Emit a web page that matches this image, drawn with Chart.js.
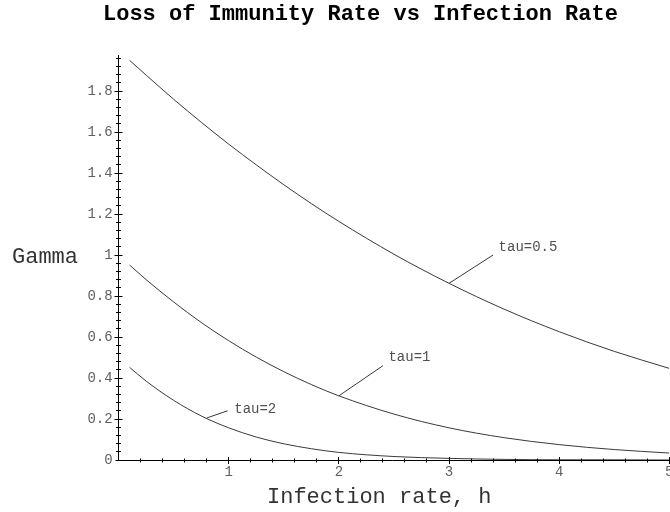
<!DOCTYPE html>
<html><head><meta charset="utf-8">
<script src="https://cdn.jsdelivr.net/npm/chart.js@4/dist/chart.umd.min.js"></script>
<style>html,body{margin:0;padding:0;background:#fff}#wrap{width:670px;height:512px;position:relative}</style>
</head><body><div id="wrap"><canvas id="c" width="670" height="512"></canvas></div>
<script>
// ---- data ----
const infectionRate = [0.1, 0.25, 0.5, 0.75, 1, 1.25, 1.5, 1.75, 2, 2.5, 3, 3.5, 4, 4.5, 5];
const gammaTau05 = [1.950, 1.878, 1.760, 1.648, 1.541, 1.440, 1.343, 1.251, 1.164, 1.004, 0.862, 0.736, 0.626, 0.530, 0.447];
const gammaTau1  = [0.951, 0.880, 0.771, 0.671, 0.582, 0.502, 0.431, 0.368, 0.313, 0.224, 0.157, 0.109, 0.075, 0.051, 0.034];
const gammaTau2  = [0.452, 0.385, 0.291, 0.215, 0.157, 0.112, 0.079, 0.055, 0.037, 0.017, 0.008, 0.003, 0.001, 0.001, 0.000];
const seriesNames = ['tau=0.5', 'tau=1', 'tau=2'];
const xTickValues = [1, 2, 3, 4, 5];
const yTickValues = [0, 0.2, 0.4, 0.6, 0.8, 1, 1.2, 1.4, 1.6, 1.8];
const chartTitle = 'Loss of Immunity Rate vs Infection Rate';
const xTitle = 'Infection rate, h';
const yTitle = 'Gamma';

// ---- label callouts (data units) ----
const callouts = [
  {text: seriesNames[0], ax: 3.0, ay: 0.862, ex: 3.40, ey: 1.00, tx: 3.45, ty: 1.04},
  {text: seriesNames[1], ax: 2.0, ay: 0.313, ex: 2.40, ey: 0.46, tx: 2.45, ty: 0.50},
  {text: seriesNames[2], ax: 0.80, ay: 0.205, ex: 0.99, ey: 0.24, tx: 1.05, ty: 0.245}
];

const MONO = '"Liberation Mono", "Courier New", monospace';
const toPts = arr => infectionRate.map((h, i) => ({x: h, y: arr[i]}));
const lineStyle = {borderColor: '#3a3a3a', borderWidth: 1, pointRadius: 0, fill: false, cubicInterpolationMode: 'monotone', showLine: true};

const maplePlugin = {
  id: 'maple',
  afterDraw(chart) {
    const {ctx, scales: {x, y}} = chart;
    const X = v => Math.floor(x.getPixelForValue(v)) + 0.5;
    const Y = v => Math.floor(y.getPixelForValue(v)) + 0.5;
    const x0 = X(0), y0 = Y(0);
    ctx.save();
    ctx.strokeStyle = '#000';
    ctx.lineWidth = 1;
    ctx.beginPath();
    // axes
    ctx.moveTo(x0 - 3, y0); ctx.lineTo(x.getPixelForValue(x.max), y0);
    ctx.moveTo(x0, y0); ctx.lineTo(x0, y.getPixelForValue(y.max));
    // y ticks every 0.04
    for (let i = 1; i <= 49; i++) {
      const py = Y(i * 0.04);
      const half = (i % 5 === 0) ? 4 : 2.5;
      ctx.moveTo(x0 - half, py); ctx.lineTo(x0 + half, py);
    }
    // x ticks every 0.2
    for (let i = 1; i <= 25; i++) {
      const px = X(i * 0.2);
      const half = (i % 5 === 0) ? 3.5 : 2;
      ctx.moveTo(px, y0 - half); ctx.lineTo(px, y0 + half);
    }
    ctx.stroke();

    // callouts
    ctx.strokeStyle = '#3a3a3a';
    ctx.beginPath();
    callouts.forEach(c => {
      ctx.moveTo(x.getPixelForValue(c.ax), y.getPixelForValue(c.ay));
      ctx.lineTo(x.getPixelForValue(c.ex), y.getPixelForValue(c.ey));
    });
    ctx.stroke();
    ctx.fillStyle = '#505050';
    ctx.font = '14px ' + MONO;
    ctx.textAlign = 'left';
    ctx.textBaseline = 'middle';
    callouts.forEach(c => ctx.fillText(c.text, x.getPixelForValue(c.tx), y.getPixelForValue(c.ty)));

    // titles
    ctx.textBaseline = 'alphabetic';
    ctx.fillStyle = '#000';
    ctx.font = 'bold 22px ' + MONO;
    ctx.fillText(chartTitle, 103, 19.5);
    ctx.fillStyle = '#333';
    ctx.font = '22px ' + MONO;
    ctx.fillText(xTitle, 267, 503);
    ctx.fillText(yTitle, 12, 263);
    ctx.restore();
  }
};

new Chart(document.getElementById('c'), {
  type: 'scatter',
  data: {
    datasets: [
      Object.assign({label: seriesNames[0], data: toPts(gammaTau05)}, lineStyle),
      Object.assign({label: seriesNames[1], data: toPts(gammaTau1)}, lineStyle),
      Object.assign({label: seriesNames[2], data: toPts(gammaTau2)}, lineStyle)
    ]
  },
  options: {
    responsive: false,
    animation: false,
    events: [],
    layout: {padding: {left: 0, right: 0.7, top: 55, bottom: 0}},
    plugins: {legend: {display: false}, tooltip: {enabled: false}, title: {display: false}},
    scales: {
      x: {
        type: 'linear', min: 0, max: 5,
        grid: {display: false, drawTicks: false}, border: {display: false},
        afterBuildTicks: s => { s.ticks = xTickValues.map(v => ({value: v})); },
        afterFit: s => { s.height = 52; s.paddingLeft = 0; s.paddingRight = 0; },
        ticks: {font: {family: MONO, size: 14}, color: '#606060', padding: 4, maxRotation: 0, autoSkip: false, callback: v => String(v)}
      },
      y: {
        type: 'linear', min: 0, max: 1.976,
        grid: {display: false, drawTicks: false}, border: {display: false},
        afterBuildTicks: s => { s.ticks = yTickValues.map(v => ({value: v})); },
        afterFit: s => { s.width = 118.6; s.paddingTop = 0; s.paddingBottom = 0; },
        ticks: {font: {family: MONO, size: 14}, color: '#606060', padding: 6, autoSkip: false, callback: v => String(v)}
      }
    }
  },
  plugins: [maplePlugin]
});
</script>
</body></html>
